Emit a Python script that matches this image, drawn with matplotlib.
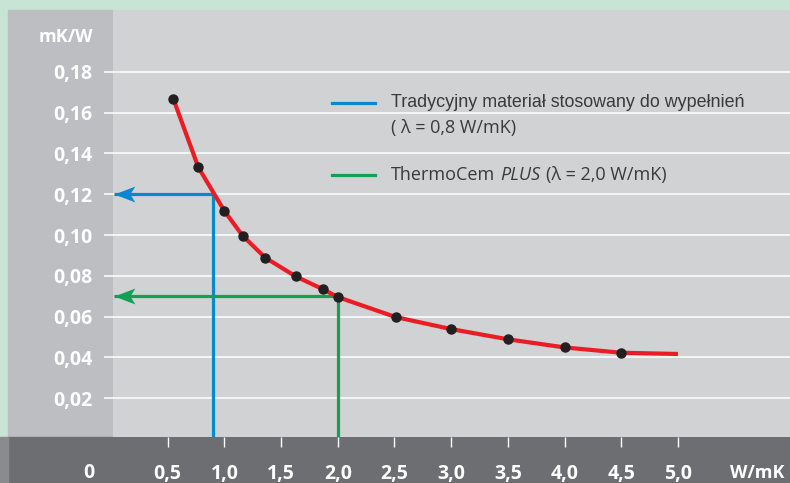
import matplotlib.pyplot as plt
from matplotlib.patches import Rectangle
from matplotlib.lines import Line2D
from matplotlib.path import Path

plt.rcParams['font.family'] = ['Open Sans', 'DejaVu Sans']

# conductivity (W/mK) vs borehole resistance (mK/W)
lam = [0.55, 0.77, 1.0, 1.16, 1.36, 1.63, 1.87, 2.0, 2.51, 3.0, 3.5, 4.0, 4.5]
res = [0.1667, 0.1332, 0.1118, 0.0997, 0.0889, 0.0797, 0.0734, 0.0696, 0.0598, 0.0539, 0.0489, 0.0449, 0.0423]
curve_end_lam = 5.0
curve_end_res = 0.0417

x_ticks = [0.5, 1.0, 1.5, 2.0, 2.5, 3.0, 3.5, 4.0, 4.5, 5.0]
y_ticks = [0.02, 0.04, 0.06, 0.08, 0.10, 0.12, 0.14, 0.16, 0.18]

trad_lam, trad_res = 0.9, 0.12
thermo_lam, thermo_res = 2.0, 0.07
arrow_tip = 0.03

legend_trad_1 = "Tradycyjny materiał stosowany do wypełnień"
legend_trad_2 = "( λ = 0,8 W/mK)"
legend_thermo = ["ThermoCem", "PLUS", "(λ = 2,0 W/mK)"]

RED = '#ec1c24'
BLUE = '#0a87d0'
GREEN = '#12a055'
DOT = '#231f20'
TXT = '#3a3a3c'

W, H = 790, 483
fig = plt.figure(figsize=(W / 100, H / 100), dpi=100)
fig.patch.set_facecolor('#c7e4d5')


def fx(px):
    return px / W


def fy(py):
    return 1 - py / H


# background panels
fig.add_artist(Rectangle((fx(8), fy(437)), fx(105), 427 / H, color='#bdbec2', zorder=-10))
fig.add_artist(Rectangle((fx(8), 0), fx(782), 46 / H, color='#6d6e72', zorder=-10))
fig.add_artist(Rectangle((0, 0), fx(8), 46 / H, color='#8a8b8f', zorder=-10))

ax = fig.add_axes([fx(113), fy(437), fx(677), 427 / H])
ax.set_facecolor('#d1d2d4')
ax.set_xlim(0.0176, 5.988)
ax.set_ylim(0.001, 0.2103)
for s in ax.spines.values():
    s.set_visible(False)

ax.set_yticks(y_ticks, labels=[f'{v:.2f}'.replace('.', ',') for v in y_ticks])
ax.set_xticks(x_ticks, labels=[f'{v:.1f}'.replace('.', ',') for v in x_ticks])
ax.tick_params(axis='y', length=0, pad=15, labelsize=14, labelcolor='white')
ax.tick_params(axis='x', length=7.2, width=1, color='white', direction='out',
               pad=12, labelsize=14, labelcolor='white')
for lbl in ax.get_xticklabels() + ax.get_yticklabels():
    lbl.set_fontweight('bold')

ax.hlines(y_ticks, -0.0133, 1, transform=ax.get_yaxis_transform(), color='white',
          lw=1.1, clip_on=False, zorder=1)

# arrow head marker, tip at origin
arrow = Path([(0, 0), (21, -8), (16, 0), (21, 8), (0, 0)],
             [Path.MOVETO, Path.LINETO, Path.LINETO, Path.LINETO, Path.CLOSEPOLY])

for l, r, c in [(trad_lam, trad_res, BLUE), (thermo_lam, thermo_res, GREEN)]:
    ax.plot([l, l], [0, r], color=c, lw=2.3, zorder=2, solid_capstyle='butt')
    ax.plot([arrow_tip, l], [r, r], color=c, lw=2.3, zorder=2, solid_capstyle='butt')
    ax.plot(arrow_tip, r, marker=arrow, ms=30, color=c, mew=0, zorder=2)

ax.plot(lam + [curve_end_lam], res + [curve_end_res], color=RED, lw=3, zorder=3,
        solid_capstyle='butt', solid_joinstyle='round')
ax.plot(lam, res, 'o', color=DOT, ms=6.5, zorder=4)

# axis captions
fig.text(fx(93), fy(42), 'mK/W', color='white', fontsize=13, fontweight='bold',
         ha='right', va='baseline')
fig.text(fx(89), fy(478), '0', color='white', fontsize=14, fontweight='bold',
         ha='center', va='baseline')
fig.text(fx(757), fy(478), 'W/mK', color='white', fontsize=13, fontweight='bold',
         ha='center', va='baseline')

# legend
fig.add_artist(Line2D([fx(332), fx(375)], [fy(103), fy(103)], color=BLUE, lw=2.3))
fig.add_artist(Line2D([fx(332), fx(375)], [fy(175), fy(175)], color=GREEN, lw=2.3))
fig.text(fx(391), fy(107), legend_trad_1, color=TXT, fontsize=12.9,
         family=['Liberation Sans', 'DejaVu Sans'], va='baseline')
fig.text(fx(391), fy(133), legend_trad_2, color=TXT, fontsize=13, va='baseline')
t1 = fig.text(fx(391), fy(180), legend_thermo[0], color=TXT, fontsize=13, va='baseline')
t2 = ax.annotate(legend_thermo[1], xy=(1, 0), xycoords=t1, xytext=(3.8, 0),
                 textcoords='offset points', color=TXT, fontsize=13, style='italic',
                 va='bottom', annotation_clip=False)
ax.annotate(legend_thermo[2], xy=(1, 0), xycoords=t2, xytext=(3.8, 0),
            textcoords='offset points', color=TXT, fontsize=13, va='bottom',
            annotation_clip=False)

fig.savefig('out.png', dpi=100, facecolor=fig.get_facecolor())
